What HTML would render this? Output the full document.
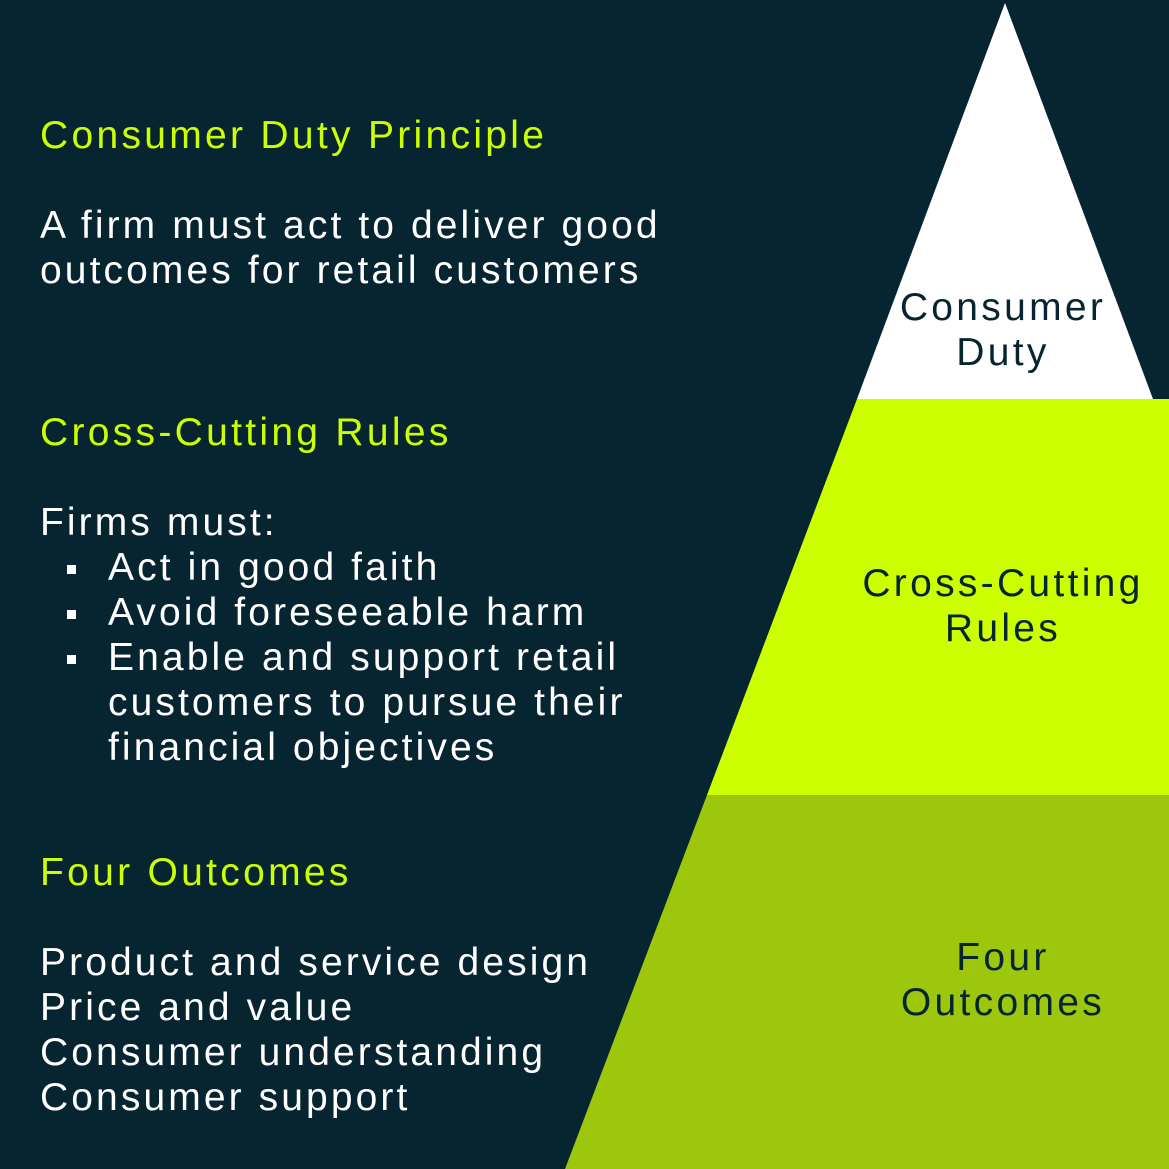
<!DOCTYPE html>
<html><head><meta charset="utf-8"><style>
html,body{margin:0;padding:0}
body{width:1169px;height:1169px;background:#062530;position:relative;overflow:hidden;font-family:"Liberation Sans",sans-serif}
svg{position:absolute;left:0;top:0}
.t{position:absolute;left:40px;color:#fff;font-size:39px;line-height:45px;white-space:nowrap;letter-spacing:3.1px}
.h{color:#ccff00;letter-spacing:3.3px}
.b{position:absolute;left:67px;width:9px;height:9px;background:#fff}
.l{position:absolute;color:#062530;font-size:39px;line-height:45px;text-align:center;width:340px;left:833px;letter-spacing:3.3px;white-space:nowrap}
</style></head><body>
<svg width="1169" height="1169">
<polygon points="1005,3 1153,399 857,399" fill="#ffffff"/>
<polygon points="857,399 1169,399 1169,795 707,795" fill="#ccff00"/>
<polygon points="707,795 1169,795 1169,1169 565,1169" fill="#9dc70d"/>
<polygon points="1153,399 1169,399 1169,441" fill="#ccff00"/>
</svg>
<div class="t h" style="top:113px">Consumer Duty Principle</div>
<div class="t" style="top:203px">A firm must act to deliver good<br>outcomes for retail customers</div>
<div class="t h" style="top:410px">Cross-Cutting Rules</div>
<div class="t" style="top:500px">Firms must:</div>
<div class="t" style="left:108px;top:545px">Act in good faith<br>Avoid foreseeable harm<br>Enable and support retail<br>customers to pursue their<br>financial objectives</div>
<div class="b" style="top:565px"></div>
<div class="b" style="top:610px"></div>
<div class="b" style="top:655px"></div>
<div class="t h" style="top:850px">Four Outcomes</div>
<div class="t" style="top:940px">Product and service design<br>Price and value<br>Consumer understanding<br>Consumer support</div>
<div class="l" style="top:285px">Consumer<br>Duty</div>
<div class="l" style="top:561px">Cross-Cutting<br>Rules</div>
<div class="l" style="top:935px">Four<br>Outcomes</div>
</body></html>
